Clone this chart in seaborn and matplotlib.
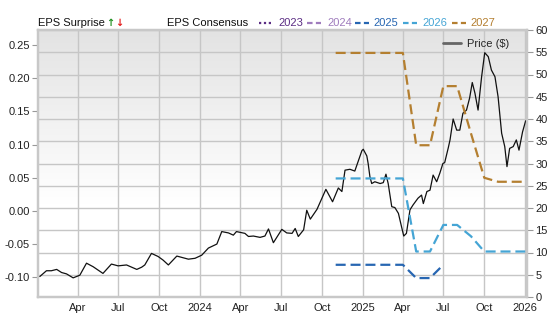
import numpy as np
import pandas as pd
import matplotlib
matplotlib.use("Agg")
import matplotlib.pyplot as plt
import matplotlib.dates as mdates
import seaborn as sns
from matplotlib.lines import Line2D
from matplotlib.colors import LinearSegmentedColormap

# ---------------- data ----------------
price_dates = [
    "2023-01-06", "2023-01-21", "2023-02-01", "2023-02-13", "2023-02-24", "2023-03-07",
    "2023-03-22", "2023-04-06", "2023-04-21", "2023-05-06", "2023-05-28", "2023-06-16",
    "2023-07-01", "2023-07-20", "2023-08-12", "2023-08-23", "2023-08-30", "2023-09-14",
    "2023-09-29", "2023-10-10", "2023-10-22", "2023-11-10", "2023-12-06", "2023-12-21",
    "2024-01-05", "2024-01-20", "2024-02-08", "2024-02-19", "2024-03-05", "2024-03-16",
    "2024-03-23", "2024-04-11", "2024-04-19", "2024-04-30", "2024-05-15", "2024-05-26",
    "2024-06-03", "2024-06-14", "2024-07-03", "2024-07-14", "2024-07-26", "2024-08-02",
    "2024-08-09", "2024-08-21", "2024-08-28", "2024-09-05", "2024-09-20", "2024-10-10",
    "2024-10-25", "2024-11-07", "2024-11-15", "2024-11-22", "2024-12-03", "2024-12-14",
    "2024-12-22", "2024-12-30", "2025-01-02", "2025-01-10", "2025-01-13", "2025-01-17",
    "2025-01-21", "2025-01-28", "2025-02-09", "2025-02-16", "2025-02-22", "2025-02-27",
    "2025-03-07", "2025-03-14", "2025-03-22", "2025-03-29", "2025-04-03", "2025-04-09",
    "2025-04-17", "2025-04-24", "2025-05-05", "2025-05-13", "2025-05-17", "2025-05-25",
    "2025-06-01", "2025-06-08", "2025-06-16", "2025-06-23", "2025-06-30", "2025-07-04",
    "2025-07-12", "2025-07-16", "2025-07-23", "2025-07-31", "2025-08-07", "2025-08-14",
    "2025-08-22", "2025-08-29", "2025-09-04", "2025-09-10", "2025-09-17", "2025-09-25",
    "2025-10-02", "2025-10-10", "2025-10-17", "2025-10-25", "2025-11-01", "2025-11-09",
    "2025-11-16", "2025-11-21", "2025-11-27", "2025-12-05", "2025-12-12", "2025-12-18",
    "2025-12-26", "2026-01-02",
]
price_values = [
    4.6, 5.9, 5.9, 6.2, 5.5, 5.2,
    4.3, 4.9, 7.6, 6.8, 5.3, 7.4,
    7.0, 7.2, 6.2, 6.7, 7.2, 9.8,
    9.1, 8.3, 7.2, 9.2, 8.5, 8.7,
    9.4, 11.0, 11.9, 14.7, 14.4, 13.9,
    14.7, 14.3, 13.6, 13.7, 13.4, 13.7,
    15.3, 12.2, 15.2, 14.4, 14.3, 15.4,
    13.6, 15.1, 19.5, 17.5, 19.7, 24.2,
    21.4, 24.5, 23.7, 28.5, 28.7, 28.3,
    30.6, 32.9, 33.2, 31.7, 30.0, 27.0,
    25.5, 25.9, 25.5, 25.7, 27.6, 25.5,
    20.3, 20.1, 18.8, 15.8, 13.7, 14.3,
    19.6, 20.7, 22.2, 22.9, 21.0, 23.7,
    24.0, 27.4, 25.9, 27.8, 30.0, 30.2,
    33.5, 35.3, 40.0, 37.5, 37.5, 41.3,
    42.0, 44.7, 48.2, 45.8, 42.0, 49.5,
    54.9, 54.0, 51.0, 49.5, 45.0, 36.8,
    33.8, 29.3, 33.4, 33.8, 35.3, 33.0,
    37.1, 39.6,
]

cons_dates = [
    "2024-11-01", "2024-12-01", "2025-01-01", "2025-02-01", "2025-03-01",
    "2025-04-01", "2025-05-01", "2025-06-01", "2025-07-01", "2025-08-01",
    "2025-09-01", "2025-10-01", "2025-11-01", "2025-12-01", "2026-01-01",
]
nan = float("nan")
eps_2025 = [-0.081, -0.081, -0.081, -0.081, -0.081, -0.081, -0.101, -0.101, -0.081,
            nan, nan, nan, nan, nan, nan]
eps_2026 = [0.049, 0.049, 0.049, 0.049, 0.049, 0.049, -0.061, -0.061, -0.021,
            -0.021, -0.038, -0.061, -0.061, -0.061, -0.061]
eps_2027 = [0.238, 0.238, 0.238, 0.238, 0.238, 0.238, 0.099, 0.099, 0.188,
            0.188, 0.117, 0.050, 0.044, 0.044, 0.044]

series_names = ["2023", "2024", "2025", "2026", "2027"]
series_colors = ["#5b2d84", "#9f7cbd", "#2766b2", "#45a5d5", "#b47f30"]

eps_ticks = [-0.10, -0.05, 0.00, 0.05, 0.10, 0.15, 0.20, 0.25]
price_ticks = [0, 5, 10, 15, 20, 25, 30, 35, 40, 45, 50, 55, 60]

# ---------------- style ----------------
sns.set_theme(style="white")
plt.rcParams["font.family"] = ["Liberation Sans", "DejaVu Sans"]
plt.rcParams["font.size"] = 8

W, H = 556, 315
fig = plt.figure(figsize=(W / 100, H / 100), dpi=100)
fig.patch.set_facecolor("white")

def fx(px):
    return px / W

def fy(py):
    return 1 - py / H

L, R, T, B = 38, 527, 30, 297
ax = fig.add_axes([fx(L), fy(B), (R - L) / W, (B - T) / H])   # price axis (right ticks)
ax2 = ax.twinx()                                            # EPS axis (left ticks)

# gradient background
grad = np.linspace(0, 1, 256).reshape(-1, 1)
cmap = LinearSegmentedColormap.from_list("bg", [(0, "#ffffff"), (0.35, "#ffffff"), (1, "#e3e3e3")])
ax.imshow(grad, extent=[0, 1, 0, 1], transform=ax.transAxes, aspect="auto",
          cmap=cmap, origin="lower", zorder=0, interpolation="bilinear")

# price line
price_df = pd.DataFrame({"date": pd.to_datetime(price_dates), "price": price_values})
sns.lineplot(data=price_df, x="date", y="price", ax=ax, color="#111111",
             linewidth=0.9, zorder=3, legend=False)

# consensus lines
cons_df = pd.DataFrame({"date": pd.to_datetime(cons_dates),
                        "2025": eps_2025, "2026": eps_2026, "2027": eps_2027})
for name, col in zip(["2025", "2026", "2027"], series_colors[2:]):
    sns.lineplot(data=cons_df, x="date", y=name, ax=ax2, color=col,
                 linewidth=1.6, dashes=False, zorder=4, legend=False)
    ax2.lines[-1].set_dashes((4.5, 2.2))

# axes limits
xmin, xmax = pd.Timestamp("2023-01-02"), pd.Timestamp("2026-01-05")
ax.set_xlim(xmin, xmax)
ax.set_ylim(0, 60)
ax2.set_ylim(-0.1295, 0.2725)

# ticks
ax.xaxis.set_major_locator(mdates.MonthLocator(bymonth=[1, 4, 7, 10]))
def fmt(x, pos=None):
    d = mdates.num2date(x)
    return str(d.year) if d.month == 1 else d.strftime("%b")
ax.xaxis.set_major_formatter(plt.FuncFormatter(fmt))
ax.set_yticks(price_ticks)
ax.set_yticklabels([str(v) for v in price_ticks])
ax.yaxis.tick_right()
ax2.yaxis.tick_left()
ax2.set_yticks(eps_ticks)
ax2.set_yticklabels([f"{v:.2f}" for v in eps_ticks])

ax.tick_params(axis="x", length=0, pad=4, labelsize=8, colors="#222222")
ax.tick_params(axis="y", which="both", right=True, left=False, length=4, width=0.8,
               pad=2, labelsize=8, color="#999999", labelcolor="#222222")
ax2.tick_params(axis="y", left=True, right=False, labelleft=True, labelright=False,
                length=4, width=0.8, pad=2, labelsize=8, color="#999999",
                labelcolor="#222222")

ax.grid(True, color="#c6c6c6", linewidth=1.0, zorder=1)
ax.set_axisbelow(True)
ax.set_xlabel("")
ax.set_ylabel("")
ax2.set_xlabel("")
ax2.set_ylabel("")
for a in (ax, ax2):
    for s in a.spines.values():
        s.set_color("#c8c8c8")
        s.set_linewidth(1.6)

# price legend
leg = ax.legend(handles=[Line2D([0], [0], color="#666666", lw=2)], labels=["Price ($)"],
                loc="upper right", bbox_to_anchor=(0.985, 1.005), frameon=False,
                fontsize=8, handlelength=1.6, handletextpad=0.6)
leg.set_zorder(10)

# header
ty = fy(23)
fig.text(fx(38), ty, "EPS Surprise", ha="left", va="center", fontsize=8, color="#111111")
fig.text(fx(106), ty, "↑", ha="left", va="center", fontsize=7, color="#1c8f1c",
         fontweight="bold", family=["DejaVu Sans"])
fig.text(fx(115), ty, "↓", ha="left", va="center", fontsize=7, color="#e31a1a",
         fontweight="bold", family=["DejaVu Sans"])
fig.text(fx(167), ty, "EPS Consensus", ha="left", va="center", fontsize=8, color="#111111")

line_x = [259, 307, 355, 403, 452]
text_x = [278, 327, 373, 422, 470]
for name, col, lx, tx in zip(series_names, series_colors, line_x, text_x):
    ln = Line2D([fx(lx), fx(lx + 14)], [ty, ty], transform=fig.transFigure,
                color=col, lw=1.6)
    if name == "2023":
        ln.set_dashes((1.0, 1.2))
    else:
        ln.set_dashes((2.5, 1.5))
    fig.add_artist(ln)
    fig.text(fx(tx), ty, name, ha="left", va="center", fontsize=8, color=col)

fig.savefig("out.png", dpi=100, facecolor="white")
